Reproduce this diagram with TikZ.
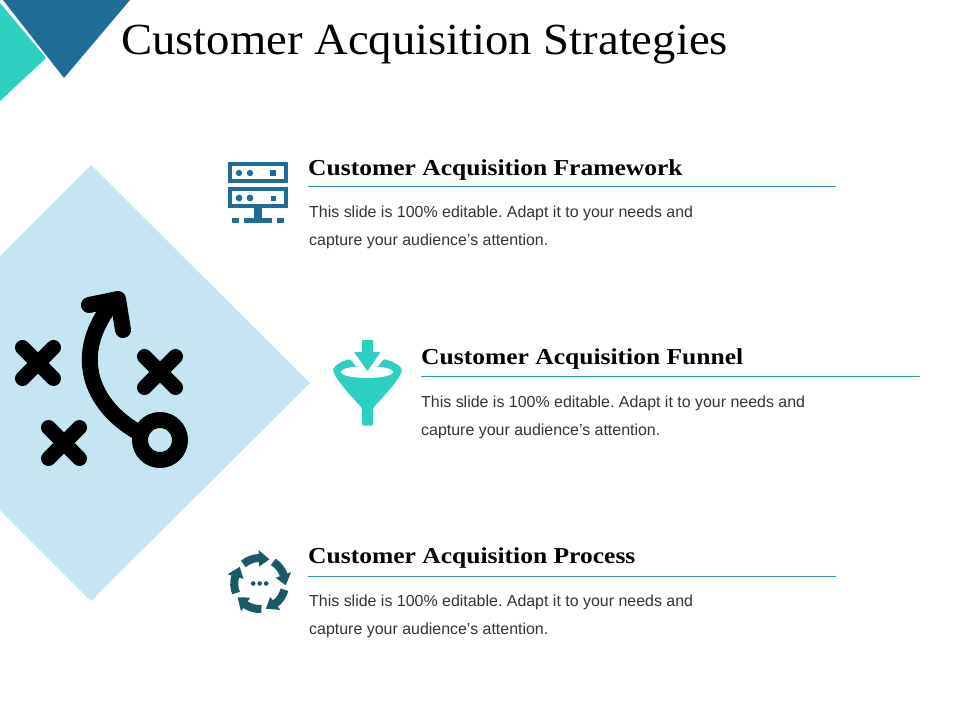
\documentclass[tikz,border=0pt]{standalone}
\usepackage{fontspec}
\setmainfont[Ligatures=NoCommon]{Liberation Sans}
\newfontfamily\headfont[FakeStretch=1.12]{Liberation Serif Bold}
\newfontfamily\bigfont[FakeStretch=1.05]{Liberation Serif}
\definecolor{teal1}{HTML}{2DCFC0}
\definecolor{blue1}{HTML}{1F6D97}
\definecolor{pale}{HTML}{C6E5F3}
\definecolor{dark1}{HTML}{1A5A66}
\definecolor{rule1}{HTML}{2A95AD}
\definecolor{body1}{HTML}{333333}
\tikzset{
 heading/.style={anchor=base west,inner sep=0pt,font=\headfont\fontsize{22.8}{28}\selectfont,text=black},
 bodytext/.style={anchor=north west,inner sep=0pt,align=left,text=body1,font=\frenchspacing\fontsize{15.95}{28}\selectfont},
 rulefine/.style={draw=rule1,line width=1pt},
 crossarm/.style={line width=15pt,line cap=round,draw=black},
 playline/.style={line width=16pt,line cap=round,line join=round,draw=black},
}
\begin{document}
\begin{tikzpicture}[x=1pt,y=-1pt]
\useasboundingbox (0,0) rectangle (960,720);
% corner triangles
\fill[teal1] (0,3) -- (46,58) -- (0,101) -- cycle;
\fill[blue1] (3,0) -- (130,0) -- (64,78) -- cycle;
% diamond
\fill[pale] (91,165) -- (310,383) -- (91,601) -- (0,510) -- (0,256) -- cycle;
% title
\node[anchor=base west,inner sep=0pt,font=\bigfont\fontsize{44.45}{50}\selectfont] (title) at (121,54) {Customer Acquisition Strategies};
% play icon
\foreach \cx/\cy in {38/363,160/372,64/443}{
 \draw[crossarm] (\cx-15.5,\cy-15.5) -- (\cx+15.5,\cy+15.5);
 \draw[crossarm] (\cx-15.5,\cy+15.5) -- (\cx+15.5,\cy-15.5);
}
\draw[playline] (136,431) .. controls (92,405) and (70,355) .. (113,302);
\draw[playline] (89,305) -- (118,299) -- (123,330);
\draw[draw=black,line width=16pt] (160,440) circle (20);
% server icon
\begin{scope}[blue1]
 \draw[line width=3.6pt] (229.8,163.8) rectangle (286.2,181.2);
 \draw[line width=3.6pt] (229.8,188.8) rectangle (286.2,206.2);
 \fill (239,173) circle (3.2) (250,173) circle (3.2);
 \fill (270,170) rectangle (276,176);
 \fill (239,198) circle (3.4) (250,198) circle (3.4);
 \fill (270.5,195.5) rectangle (275.5,200.5);
 \fill (254,208) rectangle (262,218);
 \fill (244,218) rectangle (272,222.5);
 \fill (232,218) rectangle (239,222.5);
 \fill (277,218) rectangle (284,222.5);
\end{scope}
% funnel icon
\fill[teal1,rounded corners=1.5pt] (333,370) .. controls (336,380) and (350,395) .. (362,408) -- (362,425.5) -- (373,425.5) -- (373,408) .. controls (385,395) and (399,380) .. (402,370) .. controls (400,365) and (392,361) .. (383,359) -- (367,372) -- (350,359) .. controls (342,361) and (335,365) .. (333,370) -- cycle;
\fill[white] (367,372) ellipse (26 and 6);
\fill[white] (350,359) -- (384,359) -- (378,366) -- (356,366) -- cycle;
\fill[teal1,rounded corners=0.6pt] (362,340) -- (373,340) -- (373,352) -- (380.5,352) -- (367.5,371) -- (354,352) -- (362,352) -- cycle;
% cycle icon
\begin{scope}[shift={(259.7,583.5)}]
 \foreach \a in {68,-4,-76,-148,140}{
  \fill[dark1] ({33.5*cos(\a+24)},{-33.5*sin(\a+24)}) -- ({26*cos(\a)},{-26*sin(\a)}) -- ({17*cos(\a+24)},{-17*sin(\a+24)}) -- cycle;
  \draw[dark1,line width=8pt] ({25.5*cos(\a+23)},{-25.5*sin(\a+23)}) arc[start angle=-(\a+23),end angle=-(\a+62),radius=25.5];
 }
 \fill[dark1] (-6.5,0) circle (2.3) (0,0) circle (2.3) (6.5,0) circle (2.3);
\end{scope}
% text blocks
\node[heading] (h1) at (308,175) {Customer Acquisition Framework};
\coordinate (r1a) at (308,186.6); \coordinate (r1b) at (836,186.6);
\draw[rulefine] (r1a) -- (r1b);
\node[bodytext] (b1) at (309,206) {This slide is 100\% editable. Adapt it to your needs and\\capture your audience's attention.};
\node[heading] (h2) at (421,364) {Customer Acquisition Funnel};
\coordinate (r2a) at (421,376.6); \coordinate (r2b) at (920,376.6);
\draw[rulefine] (r2a) -- (r2b);
\node[bodytext] (b2) at (421,396) {This slide is 100\% editable. Adapt it to your needs and\\capture your audience's attention.};
\node[heading] (h3) at (308,563) {Customer Acquisition Process};
\coordinate (r3a) at (308,576); \coordinate (r3b) at (836,576);
\draw[rulefine] (r3a) -- (r3b);
\node[bodytext] (b3) at (309,595) {This slide is 100\% editable. Adapt it to your needs and\\capture your audience's attention.};
\end{tikzpicture}
\end{document}
